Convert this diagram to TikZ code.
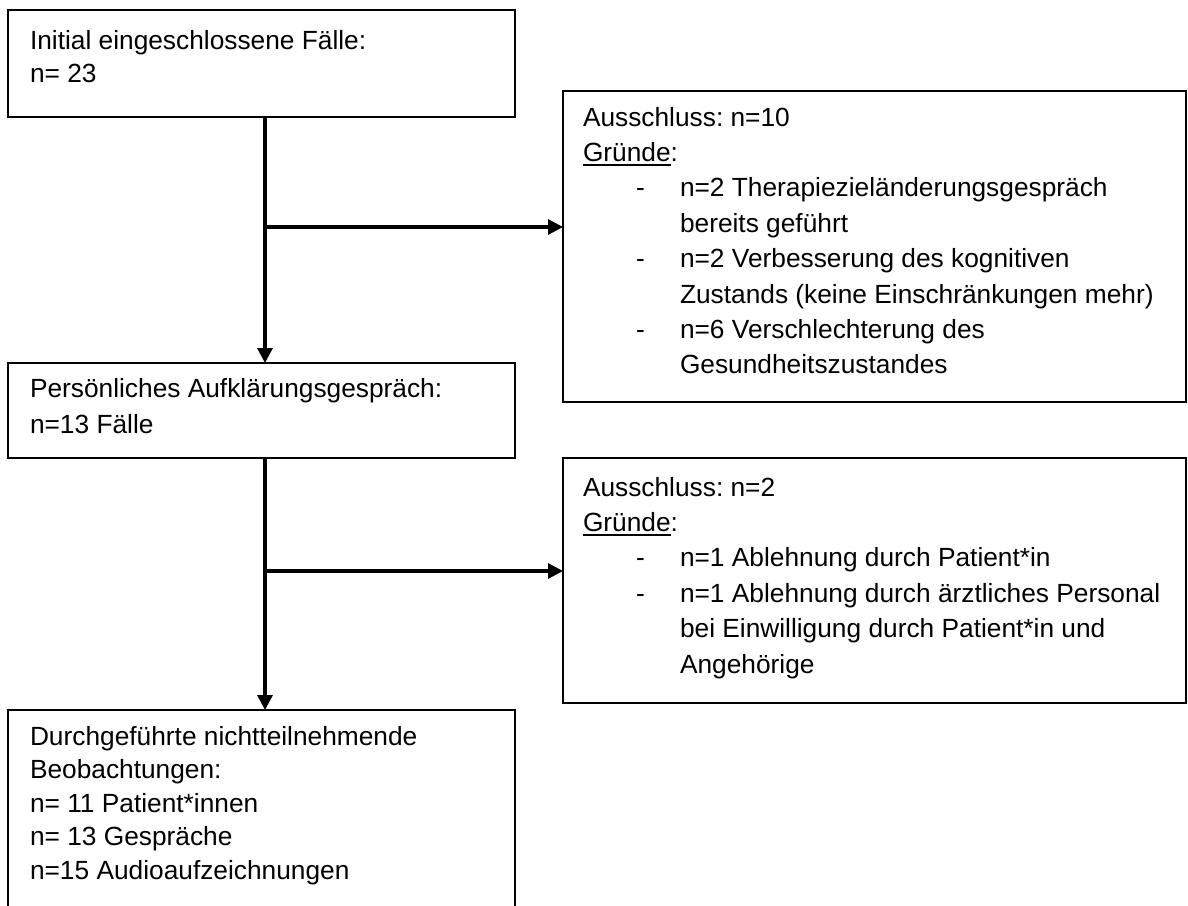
\documentclass[tikz,border=0pt]{standalone}
\usepackage{fontspec}
\setmainfont{Liberation Sans}
\usetikzlibrary{arrows.meta}
\frenchspacing
\begin{document}
\begin{tikzpicture}[x=1pt,y=-1pt,
  box/.style={draw=black,line width=2.6pt,inner sep=0pt,outer sep=0pt,anchor=north west},
  txt/.style={anchor=base west,inner sep=0pt,outer sep=0pt,font=\fontsize{26.3}{34}\selectfont},
  conn/.style={draw=black,line width=3.2pt},
  arr/.style={conn,-{Triangle[length=15pt,width=15pt]}},
  uline/.style={draw=black,line width=1.8pt}]
\useasboundingbox (0,0) rectangle (1188,905);
\clip (0,0) rectangle (1188,905);
\fill[white] (0,0) rectangle (1188,905);

% boxes
\node[box,minimum width=507pt,minimum height=107pt] (b1) at (8,10) {};
\node[box,minimum width=623pt,minimum height=311pt] (b2) at (563,91) {};
\node[box,minimum width=507pt,minimum height=95pt] (b3) at (8,363) {};
\node[box,minimum width=623pt,minimum height=245pt] (b4) at (563,458) {};
\node[box,minimum width=507pt,minimum height=230pt] (b5) at (8,710) {};

% box 1
\node[txt] (t11) at (30,49) {Initial eingeschlossene Fälle:};
\node[txt] (t12) at (30,82) {n= 23};

% box 2
\node[txt] (t21) at (583,126) {Ausschluss: n=10};
\node[txt] (t22) at (583,161.4) {Gründe};
\node[txt] (t22c) at (t22.base east) {:};
\draw[uline] ([yshift=-3.7pt]t22.base west) -- ([yshift=-3.7pt]t22.base east);
\node[txt] (d21) at (636,196.8) {-};
\node[txt] (t23) at (680,196.8) {n=2 Therapiezieländerungsgespräch};
\node[txt] (t24) at (680,232.2) {bereits geführt};
\node[txt] (d22) at (636,267.6) {-};
\node[txt] (t25) at (680,267.6) {n=2 Verbesserung des kognitiven};
\node[txt] (t26) at (680,303) {Zustands (keine Einschränkungen mehr)};
\node[txt] (d23) at (636,338.4) {-};
\node[txt] (t27) at (680,338.4) {n=6 Verschlechterung des};
\node[txt] (t28) at (680,373.8) {Gesundheitszustandes};

% box 3
\node[txt] (t31) at (30,397) {Persönliches Aufklärungsgespräch:};
\node[txt] (t32) at (30,433) {n=13 Fälle};

% box 4
\node[txt] (t41) at (583,496) {Ausschluss: n=2};
\node[txt] (t42) at (583,531.4) {Gründe};
\node[txt] (t42c) at (t42.base east) {:};
\draw[uline] ([yshift=-3.7pt]t42.base west) -- ([yshift=-3.7pt]t42.base east);
\node[txt] (d41) at (636,566.8) {-};
\node[txt] (t43) at (680,566.8) {n=1 Ablehnung durch Patient*in};
\node[txt] (d42) at (636,602.2) {-};
\node[txt] (t44) at (680,602.2) {n=1 Ablehnung durch ärztliches Personal};
\node[txt] (t45) at (680,637.6) {bei Einwilligung durch Patient*in und};
\node[txt] (t46) at (680,673) {Angehörige};

% box 5
\node[txt] (t51) at (30,745) {Durchgeführte nichtteilnehmende};
\node[txt] (t52) at (30,778.5) {Beobachtungen:};
\node[txt] (t53) at (30,812) {n= 11 Patient*innen};
\node[txt] (t54) at (30,845.5) {n= 13 Gespräche};
\node[txt] (t55) at (30,879) {n=15 Audioaufzeichnungen};

% connectors
\coordinate (j1) at ([xshift=3.5pt]b1.south |- 0,227);
\coordinate (j2) at ([xshift=3.5pt]b3.south |- 0,571);
\draw[arr] ([xshift=3.5pt]b1.south) -- ([xshift=3.5pt]b3.north);
\draw[arr] (j1) -- (j1 -| b2.west);
\draw[arr] ([xshift=3.5pt]b3.south) -- ([xshift=3.5pt]b5.north);
\draw[arr] (j2) -- (j2 -| b4.west);
\end{tikzpicture}
\end{document}
